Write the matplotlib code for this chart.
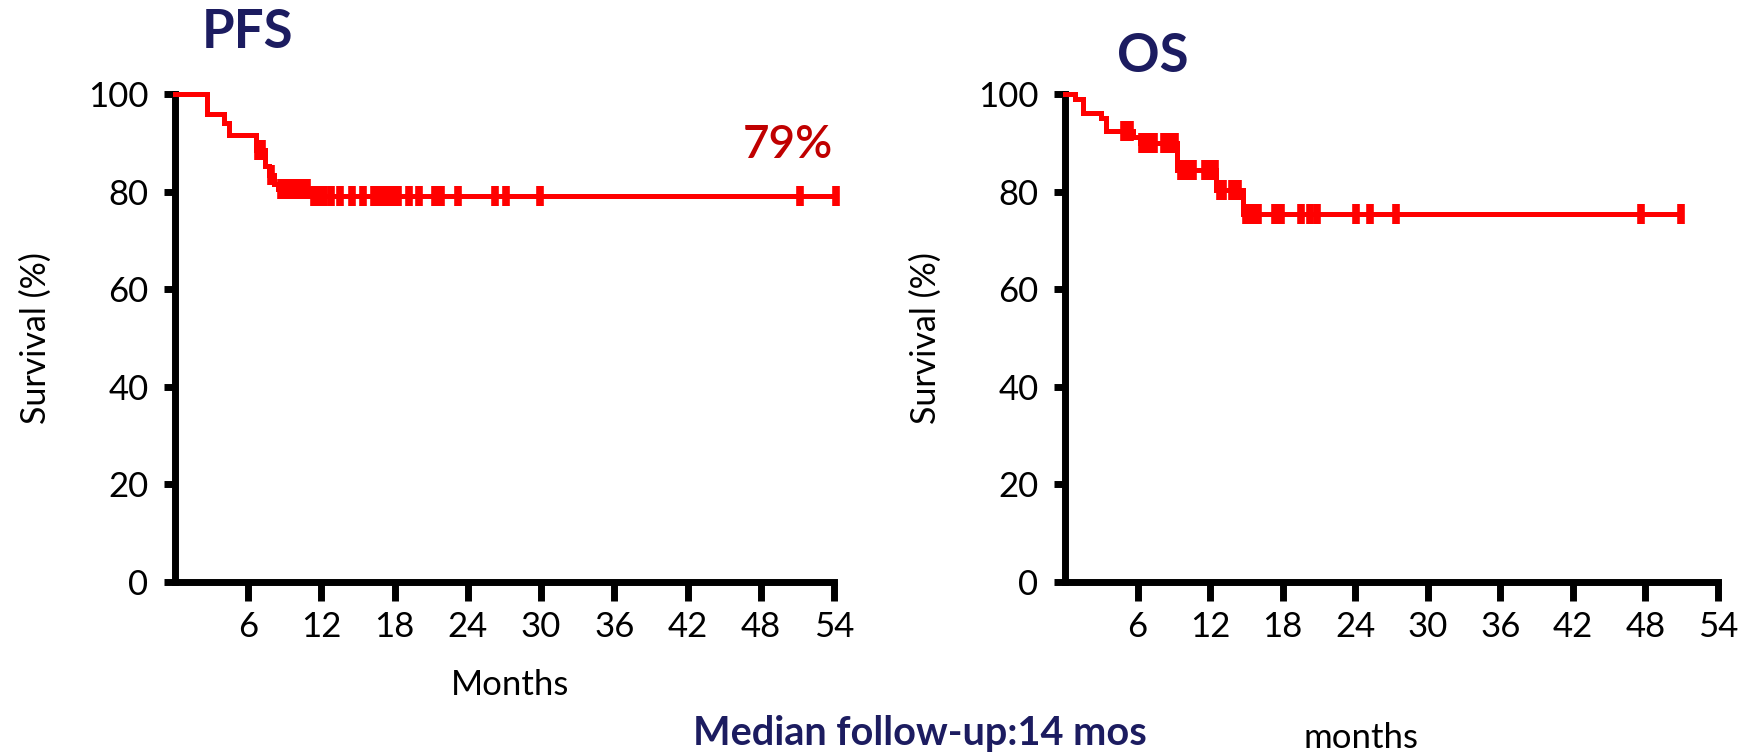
import numpy as np
import matplotlib
matplotlib.use("Agg")
import matplotlib.pyplot as plt

plt.rcParams['font.family'] = ['Lato', 'DejaVu Sans']

# ---- Kaplan-Meier estimates (months, % surviving) ----
pfs_event_t = [0, 2.6, 4.0, 4.4, 6.6, 7.4, 7.7, 8.1, 8.4, 11.2]
pfs_level = [100, 96, 94, 91.5, 88.5, 85.3, 83.3, 81.6, 80.5, 79]
pfs_censor_t = [6.8, 7.1, 7.9, 8.7, 9.0, 9.3, 9.7, 10.0, 10.4, 10.8,
                11.4, 11.8, 12.2, 12.8, 13.5, 14.5, 15.4, 16.3, 16.8, 17.3,
                17.8, 18.3, 19.2, 20.0, 21.3, 21.8, 23.2, 26.2, 27.1, 29.9,
                51.2, 54.2]
pfs_end = 54.2
pfs_label = "79%"

os_event_t = [0, 0.8, 1.5, 3.0, 3.4, 5.6, 6.2, 9.3, 12.5, 14.7]
os_level = [100, 99, 96.2, 95, 92.5, 91.2, 90, 84.4, 80.4, 75.5]
os_censor_t = [4.9, 5.4, 6.4, 6.9, 7.4, 8.2, 8.7, 9.1, 9.6, 10.1, 10.6,
               11.6, 12.0, 12.4, 12.8, 13.1, 13.8, 14.3, 15.0, 15.3, 15.7,
               16.0, 17.4, 17.9, 19.5, 20.3, 20.8, 24.1, 25.2, 27.4, 47.6,
               50.9]
os_end = 50.9

x_ticks = [6, 12, 18, 24, 30, 36, 42, 48, 54]
y_ticks = [0, 20, 40, 60, 80, 100]

RED = "#ff0000"
NAVY = "#1c1c60"
DARK_RED = "#c00000"


def km_value(times, levels, t):
    idx = np.searchsorted(times, t, side="right") - 1
    return np.asarray(levels)[idx]


def draw_km(ax, times, levels, censors, end, xlabel, xlabel_pos):
    t = list(times) + [end]
    s = list(levels) + [levels[-1]]
    ax.step(t, s, where="post", color=RED, lw=3.6, clip_on=False,
            solid_joinstyle="miter", zorder=3)
    ax.plot(censors, km_value(times, levels, censors), linestyle="none",
            marker="|", markersize=15, markeredgewidth=5.5, color=RED,
            clip_on=False, zorder=3)
    ax.set_xlim(0, 54)
    ax.set_ylim(0, 100)
    ax.set_xticks(x_ticks)
    ax.set_yticks(y_ticks)
    for side in ("top", "right"):
        ax.spines[side].set_visible(False)
    for side in ("left", "bottom"):
        ax.spines[side].set_linewidth(5)
        ax.spines[side].set_color("black")
    ax.tick_params(axis="x", length=14, width=5, pad=7, labelsize=25,
                   colors="black")
    ax.tick_params(axis="y", length=8, width=5, pad=11, labelsize=25,
                   colors="black")
    ax.set_ylabel("Survival (%)", fontsize=24.5, labelpad=26)
    ax.set_xlabel(xlabel, fontsize=25)
    ax.xaxis.set_label_coords(*xlabel_pos)


fig = plt.figure(figsize=(17.49, 7.52), dpi=100)

ax1 = fig.add_axes([175 / 1749, 1 - 582 / 752, 659 / 1749, 488 / 752])
draw_km(ax1, pfs_event_t, pfs_level, pfs_censor_t, pfs_end, "Months",
        (0.508, -0.179))
ax1.text(50.2, 89.5, pfs_label, color=DARK_RED, fontsize=33,
         fontweight="semibold", ha="center", va="center")

ax2 = fig.add_axes([1065 / 1749, 1 - 582 / 752, 653 / 1749, 488 / 752])
draw_km(ax2, os_event_t, os_level, os_censor_t, os_end, "months",
        (0.453, -0.287))

fig.text(248 / 1749, 1 - 33 / 752, "PFS", color=NAVY, fontsize=38,
         fontweight="bold", ha="center", va="center")
fig.text(1153 / 1749, 1 - 56 / 752, "OS", color=NAVY, fontsize=38,
         fontweight="bold", ha="center", va="center")
fig.text(920 / 1749, 1 - 733 / 752, "Median follow-up:14 mos", color=NAVY,
         fontsize=28.5, fontweight="bold", ha="center", va="center")

fig.savefig("out.png", dpi=100)
